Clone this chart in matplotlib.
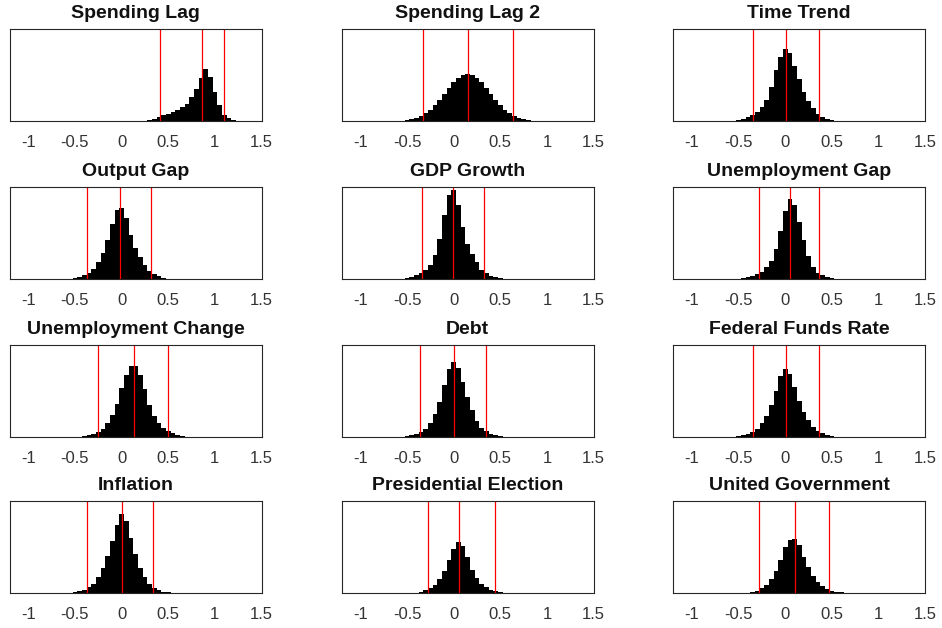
import numpy as np
import matplotlib.pyplot as plt

plt.rcParams['font.family'] = ['Liberation Sans', 'DejaVu Sans']
plt.rcParams['axes.unicode_minus'] = False

# histogram bins are 0.05 wide; first value is the centre of the first bin
BIN = 0.05

lag1_x0 = 0.30
lag1_h = [0.01, 0.02, 0.04, 0.06, 0.08, 0.10, 0.12, 0.15, 0.19, 0.26, 0.35,
          0.47, 0.57, 0.48, 0.32, 0.17, 0.07, 0.03, 0.01]
lag1_ci = [0.41, 0.86, 1.10]

lag2_x0 = -0.50
lag2_h = [0.012, 0.02, 0.035, 0.055, 0.085, 0.12, 0.17, 0.23, 0.29, 0.36, 0.42,
          0.47, 0.50, 0.51, 0.50, 0.47, 0.42, 0.36, 0.29, 0.23, 0.17, 0.12,
          0.085, 0.055, 0.035, 0.02, 0.012]
lag2_ci = [-0.33, 0.15, 0.63]

trend_x0 = -0.55
trend_h = [0.005, 0.01, 0.025, 0.045, 0.07, 0.10, 0.15, 0.23, 0.37, 0.55, 0.70,
           0.78, 0.74, 0.60, 0.46, 0.32, 0.22, 0.14, 0.08, 0.045, 0.025, 0.01]
trend_ci = [-0.35, 0.01, 0.36]

outgap_x0 = -0.55
outgap_h = [0.005, 0.01, 0.02, 0.04, 0.065, 0.11, 0.18, 0.28, 0.42, 0.60, 0.75,
            0.77, 0.66, 0.48, 0.34, 0.24, 0.15, 0.09, 0.05, 0.03, 0.015, 0.005]
outgap_ci = [-0.37, -0.02, 0.32]

gdp_x0 = -0.55
gdp_h = [0.005, 0.01, 0.02, 0.04, 0.065, 0.10, 0.155, 0.26, 0.43, 0.70, 0.91,
         0.97, 0.80, 0.56, 0.38, 0.27, 0.18, 0.10, 0.06, 0.035, 0.02, 0.008]
gdp_ci = [-0.34, -0.01, 0.32]

ugap_x0 = -0.50
ugap_h = [0.003, 0.01, 0.02, 0.03, 0.05, 0.08, 0.13, 0.20, 0.33, 0.52, 0.74,
          0.87, 0.80, 0.62, 0.42, 0.25, 0.13, 0.07, 0.04, 0.02, 0.01]
ugap_ci = [-0.28, 0.05, 0.36]

uchg_x0 = -0.45
uchg_h = [0.005, 0.01, 0.02, 0.035, 0.055, 0.09, 0.15, 0.24, 0.36, 0.53, 0.67,
          0.77, 0.77, 0.67, 0.52, 0.35, 0.23, 0.15, 0.10, 0.065, 0.04, 0.02, 0.01]
uchg_ci = [-0.25, 0.13, 0.50]

debt_x0 = -0.55
debt_h = [0.005, 0.01, 0.02, 0.035, 0.055, 0.09, 0.15, 0.25, 0.38, 0.56, 0.74,
          0.81, 0.75, 0.60, 0.43, 0.29, 0.17, 0.10, 0.06, 0.035, 0.02, 0.01]
debt_ci = [-0.36, 0.00, 0.35]

ffr_x0 = -0.55
ffr_h = [0.005, 0.01, 0.02, 0.035, 0.055, 0.09, 0.15, 0.23, 0.35, 0.50, 0.66,
         0.74, 0.69, 0.54, 0.39, 0.27, 0.18, 0.11, 0.065, 0.04, 0.025, 0.012, 0.005]
ffr_ci = [-0.35, 0.01, 0.36]

infl_x0 = -0.55
infl_h = [0.005, 0.01, 0.02, 0.035, 0.06, 0.10, 0.17, 0.27, 0.40, 0.57, 0.74,
          0.86, 0.78, 0.60, 0.42, 0.27, 0.17, 0.10, 0.055, 0.03, 0.015, 0.007]
infl_ci = [-0.37, 0.00, 0.34]

pres_x0 = -0.40
pres_h = [0.005, 0.015, 0.03, 0.05, 0.09, 0.15, 0.24, 0.36, 0.48, 0.55, 0.51,
          0.39, 0.25, 0.16, 0.10, 0.06, 0.035, 0.02, 0.01, 0.004]
pres_ci = [-0.28, 0.06, 0.44]

unit_x0 = -0.40
unit_h = [0.005, 0.012, 0.025, 0.05, 0.09, 0.15, 0.24, 0.36, 0.50, 0.58, 0.59,
          0.52, 0.39, 0.28, 0.19, 0.12, 0.075, 0.045, 0.025, 0.015, 0.008, 0.003]
unit_ci = [-0.28, 0.10, 0.47]

panels = [
    ('Spending Lag', lag1_x0, lag1_h, lag1_ci),
    ('Spending Lag 2', lag2_x0, lag2_h, lag2_ci),
    ('Time Trend', trend_x0, trend_h, trend_ci),
    ('Output Gap', outgap_x0, outgap_h, outgap_ci),
    ('GDP Growth', gdp_x0, gdp_h, gdp_ci),
    ('Unemployment Gap', ugap_x0, ugap_h, ugap_ci),
    ('Unemployment Change', uchg_x0, uchg_h, uchg_ci),
    ('Debt', debt_x0, debt_h, debt_ci),
    ('Federal Funds Rate', ffr_x0, ffr_h, ffr_ci),
    ('Inflation', infl_x0, infl_h, infl_ci),
    ('Presidential Election', pres_x0, pres_h, pres_ci),
    ('United Government', unit_x0, unit_h, unit_ci),
]

xticks = [-1, -0.5, 0, 0.5, 1, 1.5]
xticklabels = ['-1', '-0.5', '0', '0.5', '1', '1.5']

W, H = 942, 628
fig = plt.figure(figsize=(W / 100, H / 100), dpi=100)
lefts = [9.5, 341.7, 673.3]
bottoms = [121, 279, 437, 593]

for k, (title, x0, h, ci) in enumerate(panels):
    r, c = divmod(k, 3)
    ax = fig.add_axes([lefts[c] / W, 1 - bottoms[r] / H, 252 / W, 92 / H])
    edges = x0 - BIN / 2 + BIN * np.arange(len(h) + 1)
    ax.stairs(h, edges, fill=True, color='black', linewidth=0)
    for v in ci:
        ax.axvline(v, color='#ff0000', lw=0.9)
    ax.set_xlim(-1.2, 1.5)
    ax.set_ylim(0, 1)
    ax.set_yticks([])
    ax.set_xticks(xticks)
    ax.set_xticklabels(xticklabels)
    ax.tick_params(axis='x', length=0, pad=10, labelsize=12, labelcolor='#333333')
    for s in ax.spines.values():
        s.set_color('#262626')
        s.set_linewidth(0.8)
    ax.set_title(title, fontsize=14, fontweight='bold', pad=8, color='#111111')

fig.savefig('out.png', dpi=100)
